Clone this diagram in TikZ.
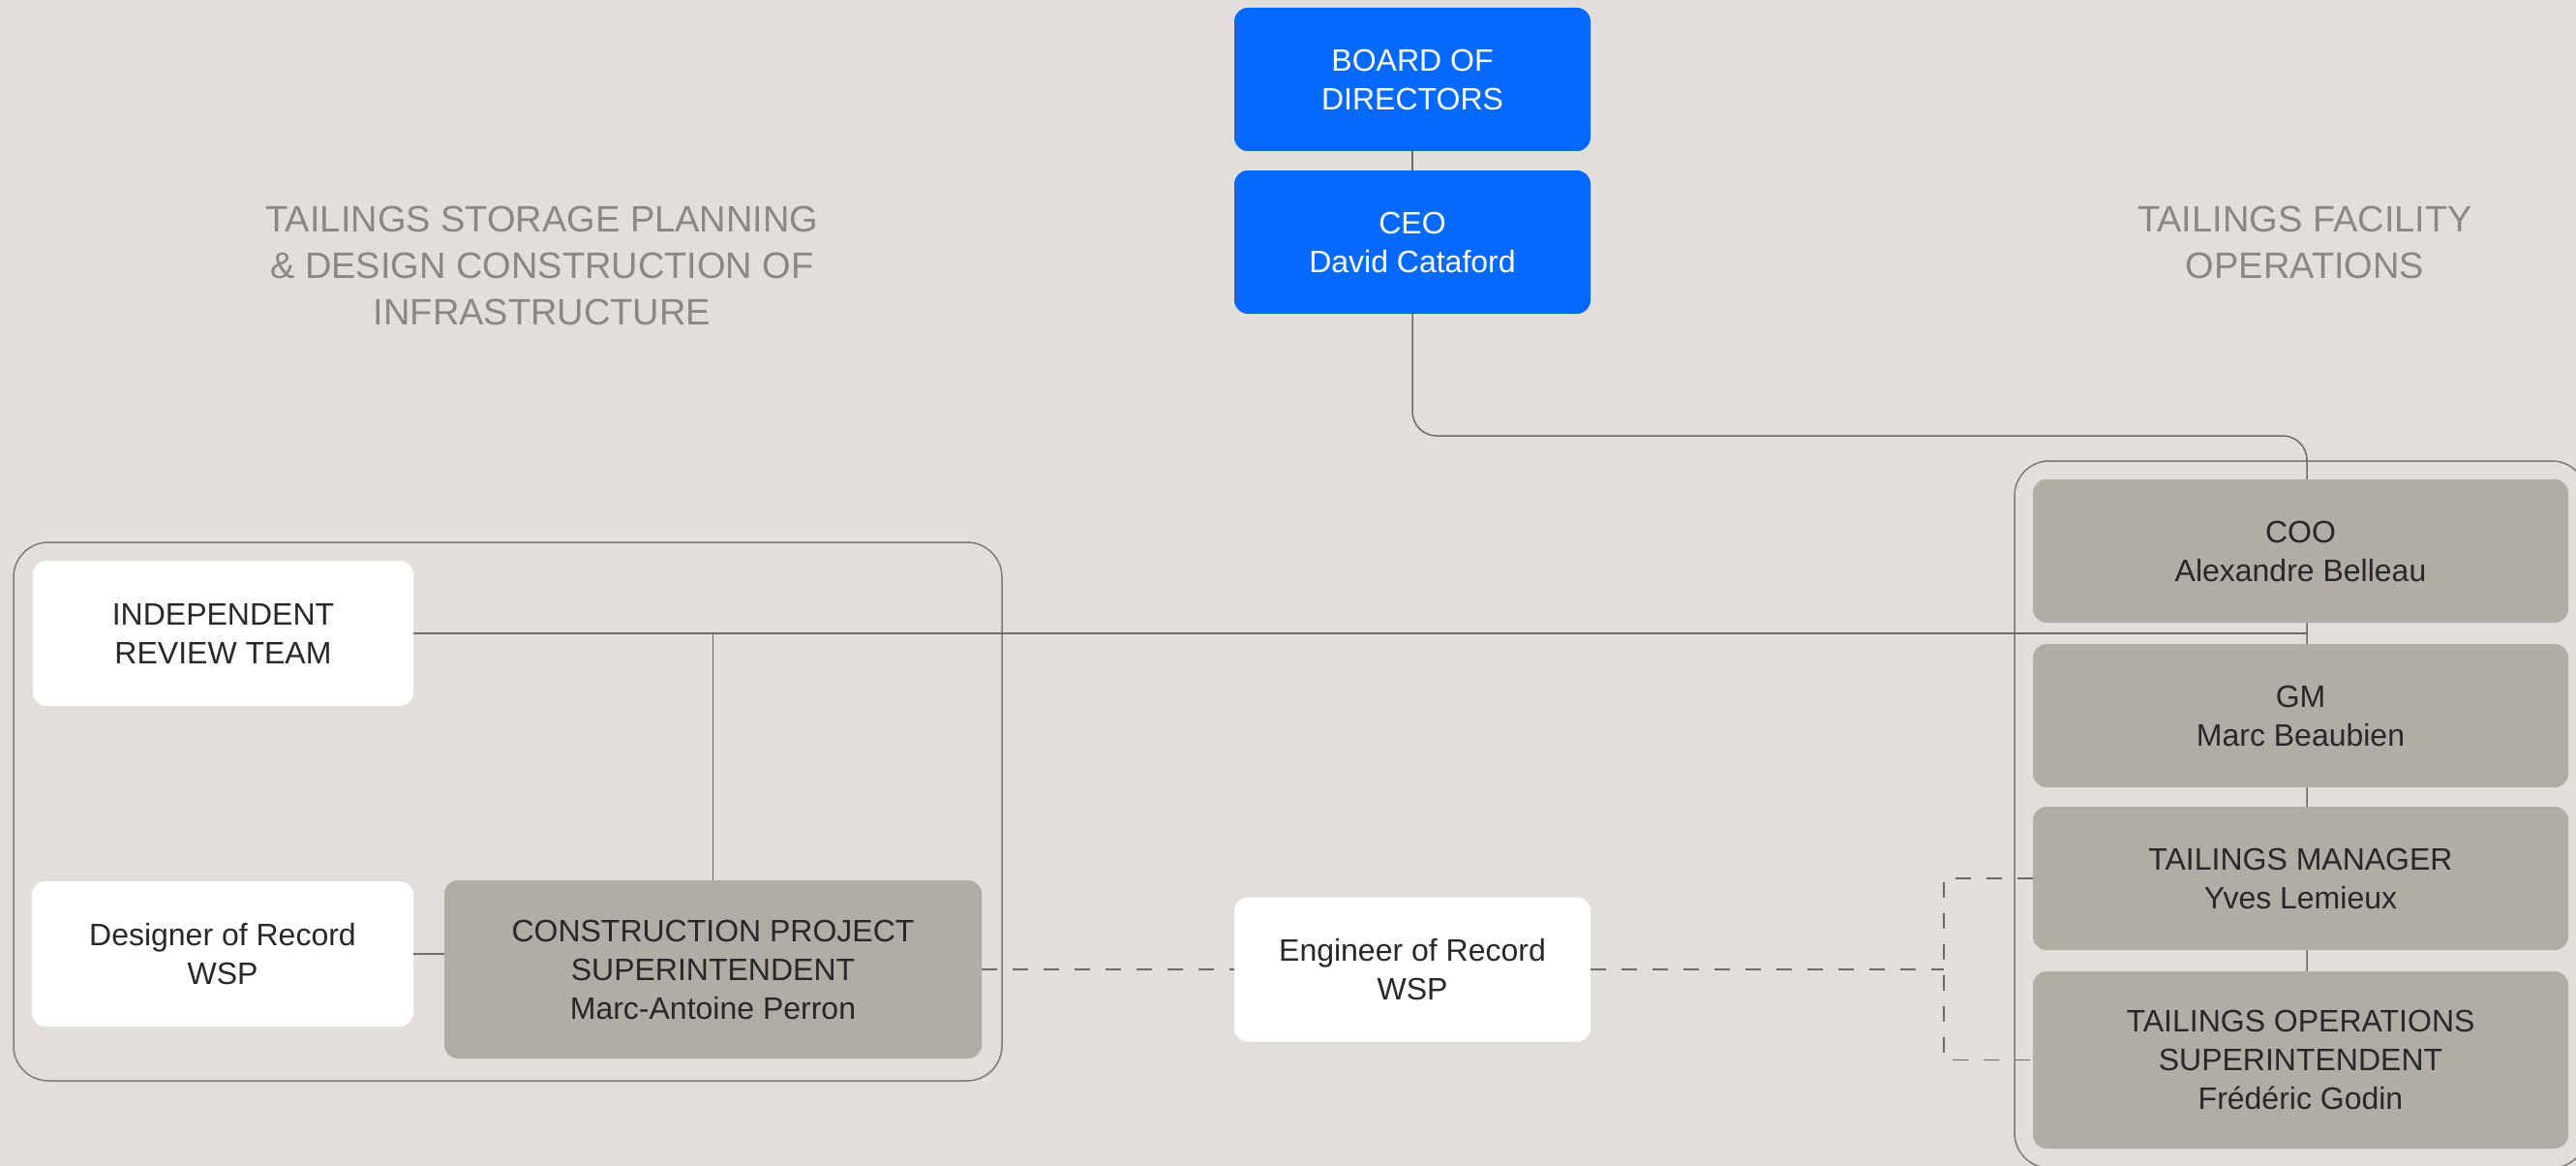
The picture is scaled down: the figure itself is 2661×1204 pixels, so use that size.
\documentclass[tikz,border=0pt]{standalone}
\usepackage{fontspec}
\setmainfont{Liberation Sans}
\usetikzlibrary{backgrounds}

\definecolor{paper}{HTML}{E2DFDA}
\definecolor{brandblue}{HTML}{0469FF}
\definecolor{stone}{HTML}{B0ACA6}
\definecolor{ink}{HTML}{2A2826}
\definecolor{headgray}{HTML}{8B8883}
\definecolor{wire}{HTML}{6E6B67}
\definecolor{frame}{HTML}{7E7B77}

\tikzset{
  card/.style={rounded corners=14pt, inner sep=0pt, align=center,
    text=ink, font=\fontsize{32}{40}\selectfont},
  bluecard/.style={card, fill=brandblue, text=white},
  stonecard/.style={card, fill=stone},
  whitecard/.style={card, fill=white},
  heading/.style={inner sep=0pt, align=center, text=headgray,
    font=\fontsize{38}{48}\selectfont},
  wirepath/.style={draw=wire, line width=1.5pt},
  dashpath/.style={wirepath, dash pattern=on 16pt off 16pt},
  groupframe/.style={draw=frame, line width=1.5pt, rounded corners=36pt},
}

\begin{document}
\begin{tikzpicture}[x=1pt,y=-1pt]
  \useasboundingbox (0,0) rectangle (2661,1204);

  % group frames
  \begin{scope}[on background layer]
    \fill[paper] (0,0) rectangle (2661,1204);
    \draw[groupframe] (14,560) rectangle (1035,1116);
    \draw[groupframe] (2081,476) rectangle (2672,1206);
  \end{scope}

  % headings
  \node[heading] (hleft) at (560,274)
    {TAILINGS STORAGE PLANNING\\ \& DESIGN CONSTRUCTION OF\\ INFRASTRUCTURE};
  \node[heading] (hright) at (2381,250) {TAILINGS FACILITY\\ OPERATIONS};

  % executive boxes
  \node[bluecard, minimum width=368pt, minimum height=148pt] (board) at (1459,82)
    {BOARD OF\\ DIRECTORS};
  \node[bluecard, minimum width=368pt, minimum height=148pt] (ceo) at (1459,250)
    {CEO\\ David Cataford};

  % facility operations column
  \node[stonecard, minimum width=553pt, minimum height=148pt] (coo) at (2376.5,569)
    {COO\\ Alexandre Belleau};
  \node[stonecard, minimum width=553pt, minimum height=148pt] (gm) at (2376.5,739)
    {GM\\ Marc Beaubien};
  \node[stonecard, minimum width=553pt, minimum height=148pt] (tm) at (2376.5,907)
    {TAILINGS MANAGER\\ Yves Lemieux};
  \node[stonecard, minimum width=553pt, minimum height=183pt] (tos) at (2376.5,1094.5)
    {TAILINGS OPERATIONS\\ SUPERINTENDENT\\ Frédéric Godin};

  % planning & construction group
  \node[whitecard, minimum width=393pt, minimum height=150pt] (irt) at (230.5,654)
    {INDEPENDENT\\ REVIEW TEAM};
  \node[whitecard, minimum width=394pt, minimum height=150pt] (dor) at (230,985)
    {Designer of Record\\ WSP};
  \node[stonecard, minimum width=555pt, minimum height=184pt] (cps) at (736.5,1001)
    {CONSTRUCTION PROJECT\\ SUPERINTENDENT\\ Marc-Antoine Perron};

  % engineer of record
  \node[whitecard, minimum width=368pt, minimum height=149pt] (eor) at (1459,1001)
    {Engineer of Record\\ WSP};

  % junction points
  \coordinate (spine) at (2383,450);
  \coordinate (spinefoot) at (2383,1003);
  \coordinate (irtjoin) at (2383,654);
  \coordinate (fork) at (2008,1001);

  \begin{scope}[on background layer]
    \draw[wirepath] (board.south) -- (ceo.north);
    \draw[wirepath, rounded corners=25pt]
      (ceo.south) -- (ceo.south |- spine) -- (spine) -- (spinefoot);
    \draw[wirepath] (irt.east) -- (irtjoin);
    \draw[wirepath] (cps.north) -- (cps.north |- irt.east);
    \draw[wirepath] (dor.east) -- (dor.east -| cps.west);
    \draw[dashpath] (cps.east) -- (eor.west);
    \draw[dashpath] (eor.east) -- (fork);
    \draw[dashpath] (tm.west) -- (tm.west -| fork) -- (tos.west -| fork) -- (tos.west);
  \end{scope}
\end{tikzpicture}
\end{document}
